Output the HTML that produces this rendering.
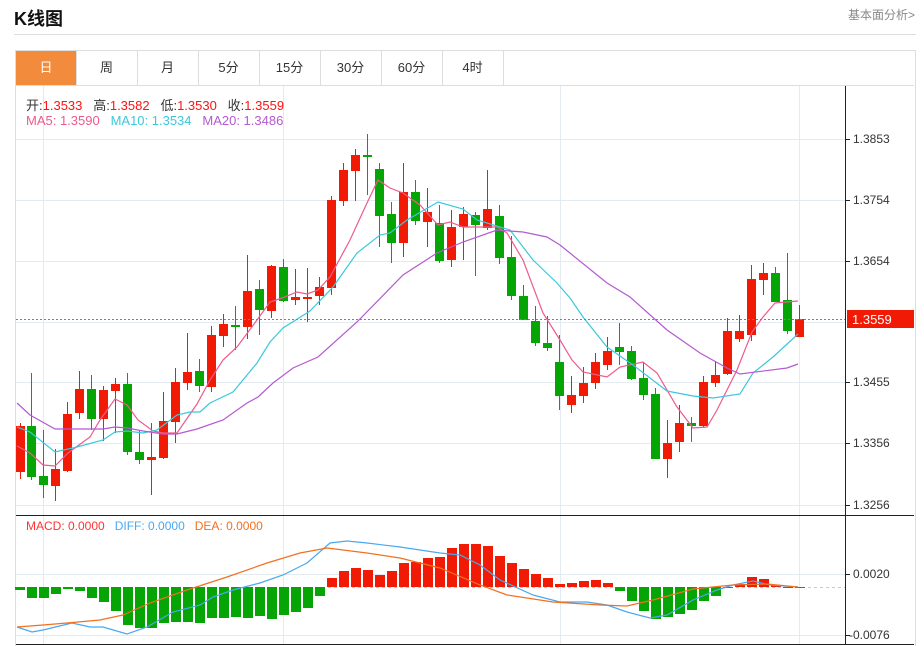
<!DOCTYPE html>
<html><head><meta charset="utf-8"><style>
body{margin:0;width:924px;height:646px;background:#fff;font-family:"Liberation Sans","Noto Sans CJK SC",sans-serif;overflow:hidden;position:relative}
.t{position:absolute;white-space:nowrap}
.tab{position:absolute;top:51px;height:34px;width:61px;border-right:1px solid #ddd;text-align:center;line-height:34px;font-size:13px;color:#333}
</style></head><body>
<div class="t" style="left:14px;top:5px;font-size:18px;font-weight:bold;color:#111">K线图</div>
<div class="t" style="left:848px;top:6px;font-size:12px;color:#888">基本面分析&gt;</div>
<div style="position:absolute;left:14px;top:34px;width:902px;height:1px;background:#ddd"></div>
<div style="position:absolute;left:15px;top:50px;width:899px;height:595px;border:1px solid #ddd;border-bottom:none"></div>
<div style="position:absolute;left:16px;top:85px;width:898px;height:1px;background:#ddd"></div>
<div class="tab" style="left:16px;background:#f28c3c;color:#fff;width:60px">日</div>
<div class="tab" style="left:76px">周</div>
<div class="tab" style="left:137px">月</div>
<div class="tab" style="left:198px">5分</div>
<div class="tab" style="left:259px">15分</div>
<div class="tab" style="left:320px">30分</div>
<div class="tab" style="left:381px">60分</div>
<div class="tab" style="left:442px">4时</div>
<svg id="s" width="924" height="646" style="position:absolute;left:0;top:0"></svg>
<div class="t" style="left:26px;top:95px;font-size:13px;color:#333">开:<span style="color:#f11">1.3533</span>&nbsp;&nbsp; 高:<span style="color:#f11">1.3582</span>&nbsp;&nbsp; 低:<span style="color:#f11">1.3530</span>&nbsp;&nbsp; 收:<span style="color:#f11">1.3559</span></div>
<div class="t" style="left:26px;top:113px;font-size:13px"><span style="color:#ee5a8a">MA5: 1.3590</span>&nbsp;&nbsp; <span style="color:#3cc8dc">MA10: 1.3534</span>&nbsp;&nbsp; <span style="color:#b45ad0">MA20: 1.3486</span></div>
<div class="t" style="left:26px;top:519px;font-size:12px"><span style="color:#f33">MACD: 0.0000</span>&nbsp;&nbsp; <span style="color:#4aa8f0">DIFF: 0.0000</span>&nbsp;&nbsp; <span style="color:#f27020">DEA: 0.0000</span></div>
<script>
var s=document.getElementById('s'),h='';
function L(x1,y1,x2,y2,c,w,d){h+='<line x1="'+x1+'" y1="'+y1+'" x2="'+x2+'" y2="'+y2+'" stroke="'+c+'" stroke-width="'+(w||1)+'"'+(d?' stroke-dasharray="'+d+'"':'')+'/>';}
function P(pts,c){h+='<polyline fill="none" stroke="'+c+'" stroke-width="1.2" points="'+pts+'"/>';}
[139,200,261,322,382,443,505,574,635].forEach(function(y){L(16,y+.5,845,y+.5,'#e3eaf0');});
[43,283,560,799].forEach(function(x){L(x+.5,86,x+.5,645,'#e3eaf0');});
L(845.5,86,845.5,645,'#222');L(16,515.5,914,515.5,'#222');L(16,644.5,914,644.5,'#222');
var labs=[[139,'1.3853'],[200,'1.3754'],[261,'1.3654'],[382,'1.3455'],[443,'1.3356'],[505,'1.3256'],[574,'0.0020'],[635,'-0.0076']];
labs.forEach(function(a){L(845,a[0]+.5,850,a[0]+.5,'#222');h+='<text x="'+(a[1][0]=='-'?849:853)+'" y="'+(a[0]+4)+'" font-size="12" fill="#333" font-family="Liberation Sans">'+a[1]+'</text>';});
var C=[[20,426,472,423,479,1],[31,426,477,373,480,0],[43,476,485,430,498,0],[55,469,486,449,501,1],[67,414,471,402,472,1],[79,389,413,371,419,1],[91,389,419,375,430,0],[103,390,419,386,441,1],[115,384,391,378,433,1],[127,384,452,373,455,0],[139,452,460,430,464,0],[151,457,460,423,495,1],[163,421,458,392,459,1],[175,382,422,368,443,1],[187,372,383,333,390,1],[199,371,386,359,392,0],[211,335,387,326,392,1],[223,324,336,314,347,1],[235,325,327,306,350,0],[247,291,327,255,339,1],[259,289,310,280,335,0],[271,266,311,265,318,1],[283,267,301,259,302,0],[295,297,300,269,305,1],[307,297,298,268,322,1],[319,287,296,277,305,1],[331,200,288,196,295,1],[343,170,201,163,206,1],[355,155,171,149,201,1],[367,155,157,134,195,0],[379,169,216,163,247,0],[391,214,243,202,263,0],[403,192,243,163,257,1],[415,192,221,180,225,0],[427,212,222,188,247,1],[439,223,261,205,263,0],[451,227,260,210,267,1],[463,214,227,207,260,1],[475,215,225,212,276,0],[487,209,228,170,230,1],[499,216,258,205,264,0],[511,257,296,236,300,0],[523,296,320,285,320,0],[535,321,343,306,346,0],[547,343,348,316,351,0],[559,362,396,335,410,0],[571,395,405,376,413,1],[583,383,396,367,403,1],[595,362,383,353,389,1],[607,351,365,337,370,1],[619,347,352,323,365,0],[631,351,379,346,380,0],[643,378,395,362,400,0],[655,394,459,388,459,0],[667,443,459,420,478,1],[679,423,442,405,452,1],[691,423,426,417,442,0],[703,382,426,376,427,1],[715,375,383,362,387,1],[727,331,374,318,375,1],[739,331,339,315,342,1],[751,279,335,265,341,1],[763,273,280,263,295,1],[775,273,302,267,302,0],[787,300,331,253,334,0],[799,319,337,305,337,1]];
C.forEach(function(c){var col=c[5]?'#f01a05':'#06a506';L(c[0]+.5,c[3],c[0]+.5,c[4],col);h+='<rect x="'+(c[0]-4)+'" y="'+c[1]+'" width="9" height="'+Math.max(2,c[2]-c[1])+'" fill="'+col+'"/>';});
P('17,446 30,453 43,465 55,466 68,453 90,437 100,420 115,399 127,405 138,420 153,431 163,433 177,433 197,404 210,380 223,360 237,347 257,320 270,302 282,298 297,292 307,294 318,290 330,277 350,240 367,203 378,180 390,188 403,193 420,205 438,225 450,222 463,227 497,227 507,233 523,260 543,313 560,340 572,360 583,372 607,377 620,367 643,362 657,373 677,407 693,428 707,427 717,410 737,370 752,332 763,317 775,303 798,301','#ee5a8a');
P('17,427 30,432 55,452 77,447 103,440 115,432 127,431 143,433 157,430 177,415 190,412 200,412 210,403 233,392 257,363 270,342 283,328 310,311 333,287 357,253 380,235 390,233 407,220 438,202 463,209 477,220 510,230 533,260 557,283 570,298 583,317 607,347 633,365 667,391 693,396 713,398 740,394 753,373 773,357 798,334','#3cc8dc');
P('17,403 30,415 55,429 77,429 103,429 115,427 127,428 143,431 163,434 177,434 197,429 223,420 247,403 258,397 273,383 293,368 318,357 357,322 403,275 437,253 463,242 497,230 523,232 547,237 560,245 607,283 630,297 667,330 700,353 727,368 740,374 787,368 798,364','#b45ad0');
L(16,319.5,845,319.5,'#f05050',1,'2,2');
h+='<rect x="847" y="310" width="67" height="18" fill="#f01a05"/><text x="852" y="324" font-size="13" fill="#fff" font-family="Liberation Sans">1.3559</text>';
var B=[590,598,598,594,589,591,598,602,611,625,628,628,623,622,622,623,618,618,617,618,616,619,615,612,608,596,578,571,568,570,575,571,563,562,558,557,548,544,544,546,556,563,569,574,578,584,583,581,580,583,591,601,611,619,617,614,610,601,596,588,584,577,579,585,588,588];
L(16,587.5,845,587.5,'#a8d4ea',1,'3,3');
B.forEach(function(y,i){var x=20+i*12,up=y<587,col=up?'#f01a05':'#06a506';var t=up?y:587,hh=Math.abs(y-587);if(hh<1)hh=1;h+='<rect x="'+(x-5)+'" y="'+t+'" width="10" height="'+hh+'" fill="'+col+'"/>';});
P('17,627 32,632 43,630 72,623 90,627 103,627 127,634 147,627 173,612 200,605 213,597 233,590 260,583 283,575 307,563 330,543 347,541 367,543 400,547 440,553 460,555 480,565 500,580 533,595 560,602 587,602 607,605 627,612 650,618 667,615 693,600 717,590 733,585 753,581 770,585 798,587','#4aa8f0');
P('17,627 43,625 67,623 100,620 123,615 150,603 187,590 227,577 267,563 300,553 327,548 367,553 400,558 440,568 480,585 507,595 553,602 600,605 627,606 653,600 693,589 733,585 767,584 798,587','#f27020');
s.innerHTML=h;
</script>
</body></html>
